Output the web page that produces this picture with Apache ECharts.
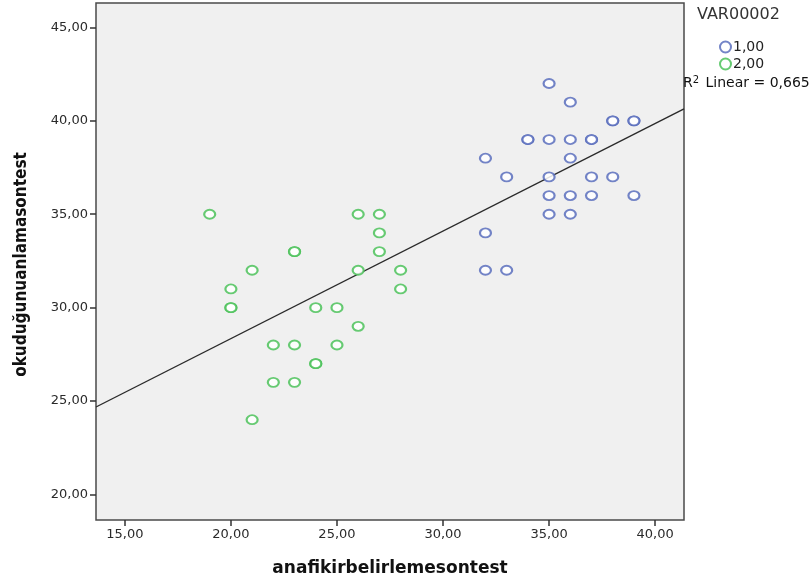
<!DOCTYPE html>
<html><head><meta charset="utf-8">
<script src="https://cdn.jsdelivr.net/npm/echarts@6/dist/echarts.min.js"></script>
<style>html,body{margin:0;padding:0;background:#fff}#c{width:811px;height:582px}</style>
</head><body><div id="c"></div>
<script>
// group 1,00 (blue) points: [anafikirbelirlemesontest, okuduğunuanlamasontest]
const group1 = [
  [35,42],[36,41],[38,40],[38,40],[39,40],[39,40],
  [34,39],[34,39],[35,39],[36,39],[37,39],[37,39],
  [32,38],[36,38],[33,37],[35,37],[37,37],[38,37],
  [35,36],[36,36],[37,36],[39,36],[35,35],[36,35],
  [32,34],[32,32],[33,32]
];
// group 2,00 (green) points
const group2 = [
  [19,35],[26,35],[27,35],[27,34],[23,33],[23,33],[27,33],
  [21,32],[26,32],[28,32],[20,31],[28,31],[20,30],[20,30],
  [24,30],[25,30],[26,29],[22,28],[23,28],[25,28],
  [24,27],[24,27],[22,26],[23,26],[21,24]
];
// fit line endpoints (x at axis edges, y)
const fitX = [13.64, 41.36];
const fitY = [24.68, 40.64];
const xTicks = [15,20,25,30,35,40];
const yTicks = [20,25,30,35,40,45];
const legendNames = ['1,00','2,00'];
const legendTitle = 'VAR00002';
const r2Text = '0,665';
const xTitle = 'anafikirbelirlemesontest';
const yTitle = 'okuduğunuanlamasontest';

const fmt = v => v.toFixed(2).replace('.', ',');
const chart = echarts.init(document.getElementById('c'), null, {renderer:'canvas'});
const font = "'DejaVu Sans', 'Liberation Sans', sans-serif";
chart.setOption({
  animation:false,
  backgroundColor:'#ffffff',
  grid:{left:96, top:3, width:588, height:518, show:true, backgroundColor:'#F0F0F0', borderColor:'#4a4a4a', borderWidth:1.5, containLabel:false},
  xAxis:{type:'value', min:13.64, max:41.36,
    name:xTitle, nameLocation:'middle', nameGap:40,
    nameTextStyle:{fontFamily:font, fontWeight:'bold', fontSize:17, color:'#111'},
    axisLine:{show:false}, splitLine:{show:false},
    axisTick:{show:true, inside:false, length:6, lineStyle:{color:'#333', width:1.5}, customValues:xTicks},
    axisLabel:{customValues:xTicks, formatter:fmt, fontFamily:font, fontSize:13, color:'#2a2a2a', margin:8}
  },
  yAxis:{type:'value', min:18.63, max:46.31,
    name:yTitle, nameLocation:'middle', nameGap:66, nameRotate:90,
    nameTextStyle:{fontFamily:"'Liberation Sans Narrow','DejaVu Sans Condensed','Liberation Sans',sans-serif", fontWeight:'bold', fontSize:17, color:'#111', padding:[0,0,0,-6]},
    axisLine:{show:false}, splitLine:{show:false},
    axisTick:{show:true, inside:false, length:6, lineStyle:{color:'#333', width:1.5}, customValues:yTicks},
    axisLabel:{customValues:yTicks, formatter:fmt, fontFamily:font, fontSize:13, color:'#2a2a2a', margin:8}
  },
  legend:{orient:'vertical', left:714, top:35, itemWidth:13, itemHeight:11, itemGap:3,
    textStyle:{fontFamily:font, fontSize:14, color:'#222', padding:[0,0,0,-4]},
    data:[{name:legendNames[0], icon:'emptyCircle'},{name:legendNames[1], icon:'emptyCircle'}]
  },
  graphic:[
    {type:'text', left:697, top:7, style:{text:legendTitle, fontFamily:font, fontSize:16, fill:'#333'}},
    {type:'text', left:683, top:75, style:{text:'R{s|2} Linear = ' + r2Text, fontFamily:font, fontSize:14, fill:'#111',
      rich:{s:{fontSize:10, verticalAlign:'top', padding:[0,2,6,0], fontFamily:font, fill:'#111'}}}}
  ],
  series:[
    {name:legendNames[0], type:'scatter', data:group1, symbol:'emptyCircle', symbolSize:[11,9],
      itemStyle:{color:'#5a6fbd', borderColor:'#5a6fbd', borderWidth:1.5, opacity:0.85}},
    {name:legendNames[1], type:'scatter', data:group2, symbol:'emptyCircle', symbolSize:[11,9],
      itemStyle:{color:'#4cc25a', borderColor:'#4cc25a', borderWidth:1.5, opacity:0.85}},
    {name:'fit', type:'line', data:fitX.map((x,i)=>[x,fitY[i]]), symbol:'none', silent:true,
      lineStyle:{color:'#2a2a2a', width:1.4}, z:1}
  ]
});
</script></body></html>
